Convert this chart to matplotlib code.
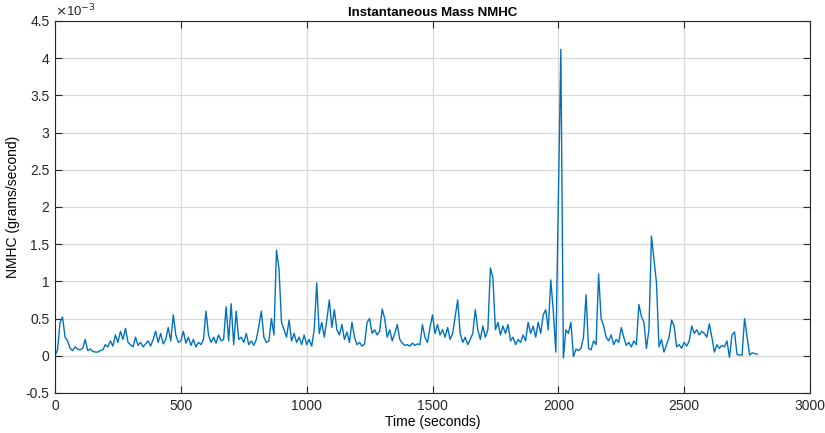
import numpy as np
import matplotlib
matplotlib.use("Agg")
import matplotlib.pyplot as plt
from matplotlib.ticker import FuncFormatter

# time in seconds (10 s sampling)
time_s = list(range(0, 2800, 10))

# NMHC mass rate, in units of 1e-3 g/s
nmhc_e3 = [
    0.00, 0.08, 0.45, 0.52, 0.25, 0.20, 0.10, 0.07, 0.12, 0.09,
    0.08, 0.10, 0.22, 0.07, 0.09, 0.06, 0.05, 0.05, 0.07, 0.08,
    0.15, 0.12, 0.20, 0.13, 0.28, 0.18, 0.33, 0.22, 0.37, 0.18,
    0.15, 0.12, 0.25, 0.14, 0.18, 0.12, 0.16, 0.20, 0.13, 0.22,
    0.33, 0.18, 0.30, 0.16, 0.22, 0.38, 0.20, 0.55, 0.28, 0.18,
    0.20, 0.33, 0.17, 0.25, 0.14, 0.22, 0.12, 0.18, 0.15, 0.22,
    0.60, 0.28, 0.18, 0.25, 0.17, 0.28, 0.20, 0.22, 0.66, 0.20,
    0.70, 0.15, 0.60, 0.22, 0.25, 0.18, 0.30, 0.15, 0.20, 0.14,
    0.22, 0.40, 0.60, 0.25, 0.18, 0.20, 0.50, 0.28, 1.42, 1.17,
    0.45, 0.35, 0.25, 0.48, 0.20, 0.30, 0.18, 0.25, 0.15, 0.28,
    0.15, 0.22, 0.13, 0.35, 0.98, 0.30, 0.45, 0.25, 0.48, 0.75,
    0.38, 0.62, 0.35, 0.28, 0.42, 0.22, 0.32, 0.18, 0.45, 0.25,
    0.15, 0.18, 0.13, 0.16, 0.45, 0.50, 0.30, 0.35, 0.28, 0.33,
    0.63, 0.50, 0.25, 0.35, 0.20, 0.30, 0.42, 0.22, 0.17, 0.14,
    0.15, 0.13, 0.17, 0.14, 0.16, 0.15, 0.42, 0.25, 0.18, 0.38,
    0.55, 0.30, 0.42, 0.28, 0.35, 0.25, 0.38, 0.22, 0.30, 0.53,
    0.75, 0.30, 0.18, 0.25, 0.15, 0.22, 0.30, 0.62, 0.35, 0.22,
    0.40, 0.25, 0.35, 1.18, 1.05, 0.35, 0.45, 0.28, 0.40, 0.30,
    0.42, 0.20, 0.25, 0.15, 0.22, 0.18, 0.28, 0.20, 0.45, 0.30,
    0.40, 0.25, 0.45, 0.30, 0.55, 0.62, 0.35, 1.02, 0.60, 0.05,
    2.05, 4.12, -0.03, 0.35, 0.30, 0.45, -0.01, 0.09, 0.07, 0.10,
    0.25, 0.82, 0.10, 0.08, 0.20, 0.15, 1.10, 0.50, 0.40, 0.25,
    0.20, 0.28, 0.15, 0.22, 0.18, 0.38, 0.25, 0.14, 0.18, 0.12,
    0.20, 0.15, 0.69, 0.53, 0.45, 0.10, 0.35, 1.61, 1.30, 0.98,
    0.12, 0.22, 0.05, 0.15, 0.25, 0.48, 0.40, 0.12, 0.15, 0.10,
    0.18, 0.13, 0.20, 0.40, 0.30, 0.35, 0.28, 0.33, 0.30, 0.25,
    0.43, 0.25, 0.05, 0.15, 0.10, 0.14, 0.12, 0.20, -0.02, 0.28,
    0.32, 0.02, 0.01, 0.01, 0.50, 0.25, 0.01, 0.04, 0.03, 0.02,
]

x_ticks = [0, 500, 1000, 1500, 2000, 2500, 3000]
y_ticks = [-0.5, 0, 0.5, 1, 1.5, 2, 2.5, 3, 3.5, 4, 4.5]

plt.rcParams['font.family'] = ['Liberation Sans', 'DejaVu Sans']
plt.rcParams['axes.unicode_minus'] = False

fig = plt.figure(figsize=(8.25, 4.33), dpi=100)
ax = fig.add_axes([55/825, 40/433, 755/825, 372/433])

ax.plot(time_s, nmhc_e3, color='#0072BD', lw=1.0)

ax.set_xlim(0, 3000)
ax.set_ylim(-0.5, 4.5)
ax.set_xticks(x_ticks)
ax.set_yticks(y_ticks)
ax.yaxis.set_major_formatter(FuncFormatter(lambda v, p: f"{v:g}"))
ax.xaxis.set_major_formatter(FuncFormatter(lambda v, p: f"{v:g}"))

ax.grid(True, color='#d8d8d8', lw=0.9)
ax.set_axisbelow(True)
ax.tick_params(direction='in', length=5, width=0.8, top=True, right=True,
               labelsize=10, colors='#262626', pad=4)
for s in ax.spines.values():
    s.set_color('#262626')
    s.set_linewidth(0.8)

ax.set_title('Instantaneous Mass NMHC', fontsize=9.5, fontweight='bold', pad=3.5)
ax.set_xlabel('Time (seconds)', fontsize=10, labelpad=2)
ax.set_ylabel('NMHC (grams/second)', fontsize=10, labelpad=4)
ax.text(0.0, 1.005, r'$\times$10$^{-3}$', transform=ax.transAxes,
        fontsize=9.5, ha='left', va='bottom', color='#262626')

fig.savefig('out.png', dpi=100)
